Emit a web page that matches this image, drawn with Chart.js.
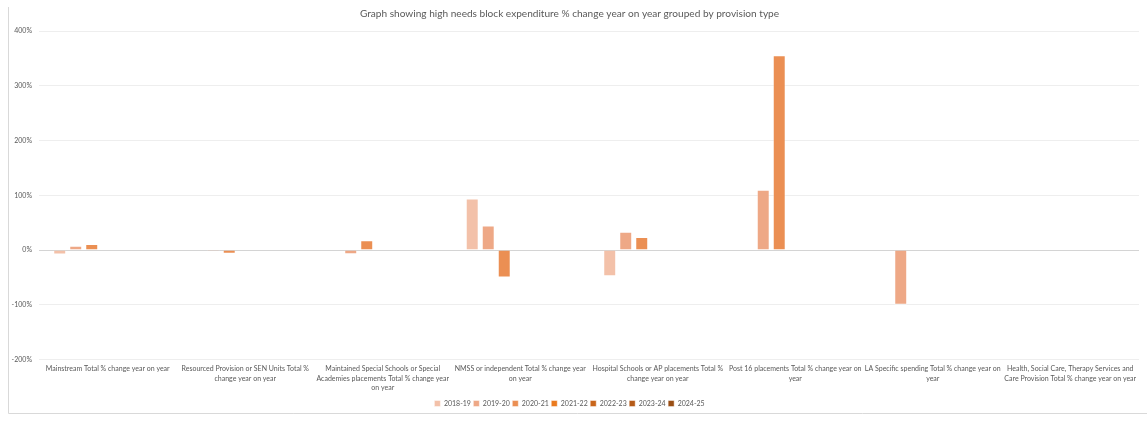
<!DOCTYPE html>
<html>
<head>
<meta charset="utf-8">
<script src="https://cdn.jsdelivr.net/npm/chart.js@4.4.0/dist/chart.umd.min.js"></script>
<style>
  html, body { margin: 0; padding: 0; background: #fff; }
  #wrap { width: 1147px; height: 421px; position: relative; }
</style>
</head>
<body>
<div id="wrap"><canvas id="chart"></canvas></div>
<script>
// provision types (wrapped the way the original axis shows them)
var categories = [
    ["Mainstream Total % change year on year"],
    ["Resourced Provision or SEN Units Total %", "change year on year"],
    ["Maintained Special Schools or Special", "Academies placements Total % change year", "on year"],
    ["NMSS or independent Total % change year", "on year"],
    ["Hospital Schools or AP placements Total %", "change year on year"],
    ["Post 16 placements Total % change year on", "year"],
    ["LA Specific spending Total % change year on", "year"],
    ["Health, Social Care, Therapy Services and", "Care Provision Total % change year on year"]
];

var years = ["2018-19", "2019-20", "2020-21", "2021-22", "2022-23", "2023-24", "2024-25"];

// % change year on year
var y2018 = [-8, null, 1.5, 94, -48, null, null, null];
var y2019 = [8, -2, -7.5, 45, 33.5, 110, -100, null];
var y2020 = [11, -7, 18, -50, 24, 356, null, null];
var y2021 = [null, null, null, null, null, null, null, null];
var y2022 = [null, null, null, null, null, null, null, null];
var y2023 = [null, null, null, null, null, null, null, null];
var y2024 = [null, null, null, null, null, null, null, null];

var yTicks = [-200, -100, 0, 100, 200, 300, 400];

var colours = ["#f3c1a9", "#eea886", "#eb8f53", "#ea7a1e", "#c9651a", "#b55b18", "#9a4f15"];

var seriesValues = [y2018, y2019, y2020, y2021, y2022, y2023, y2024];
var datasets = [];
for (var i = 0; i < years.length; i++) {
    datasets.push({
        label: years[i],
        data: seriesValues[i],
        backgroundColor: colours[i],
        borderColor: "rgba(255,255,255,0.45)",
        borderWidth: 1,
        categoryPercentage: 0.815,
        barPercentage: 0.81
    });
}

// thin frame round the chart, like the spreadsheet chart object
var frame = {
    id: "frame",
    beforeDraw: function(chart) {
        var c = chart.ctx;
        c.save();
        c.strokeStyle = "#d9d9d9";
        c.lineWidth = 1;
        c.beginPath();
        c.moveTo(8.5, 7);
        c.lineTo(8.5, 413.5);
        c.lineTo(1147, 413.5);
        c.stroke();
        c.restore();
    }
};

var font = "Lato, 'Open Sans', sans-serif";

new Chart(document.getElementById("chart"), {
    type: "bar",
    data: { labels: categories, datasets: datasets },
    plugins: [frame],
    options: {
        responsive: true,
        maintainAspectRatio: false,
        animation: false,
        layout: { padding: { left: 0, right: 8, top: 0, bottom: 4 } },
        plugins: {
            title: {
                display: true,
                text: "Graph showing high needs block expenditure % change year on year grouped by provision type",
                color: "#595959",
                font: { family: font, size: 10.1, weight: "normal" },
                padding: { top: 8, bottom: 11 }
            },
            legend: {
                position: "bottom",
                labels: {
                    boxWidth: 6,
                    boxHeight: 6,
                    padding: 2.5,
                    color: "#595959",
                    font: { family: font, size: 7 }
                }
            },
            tooltip: { enabled: false }
        },
        scales: {
            x: {
                grid: { display: false, drawTicks: false },
                border: { display: false },
                afterFit: function(axis) { axis.height = 38; },
                ticks: {
                    color: "#595959",
                    font: { family: font, size: 7, lineHeight: 1.35 },
                    maxRotation: 0,
                    autoSkip: false,
                    padding: 5
                }
            },
            y: {
                min: -200,
                max: 400,
                afterBuildTicks: function(axis) {
                    axis.ticks = yTicks.map(function(v) { return { value: v }; });
                },
                afterFit: function(axis) { axis.width = 39; },
                grid: {
                    color: function(ctx) { return ctx.tick && ctx.tick.value === 0 ? "#d4d4d4" : "#eeeeee"; },
                    drawTicks: false
                },
                border: { display: false },
                ticks: {
                    color: "#595959",
                    font: { family: font, size: 7 },
                    padding: 7,
                    callback: function(v) { return v + "%"; }
                }
            }
        }
    }
});
</script>
</body>
</html>
